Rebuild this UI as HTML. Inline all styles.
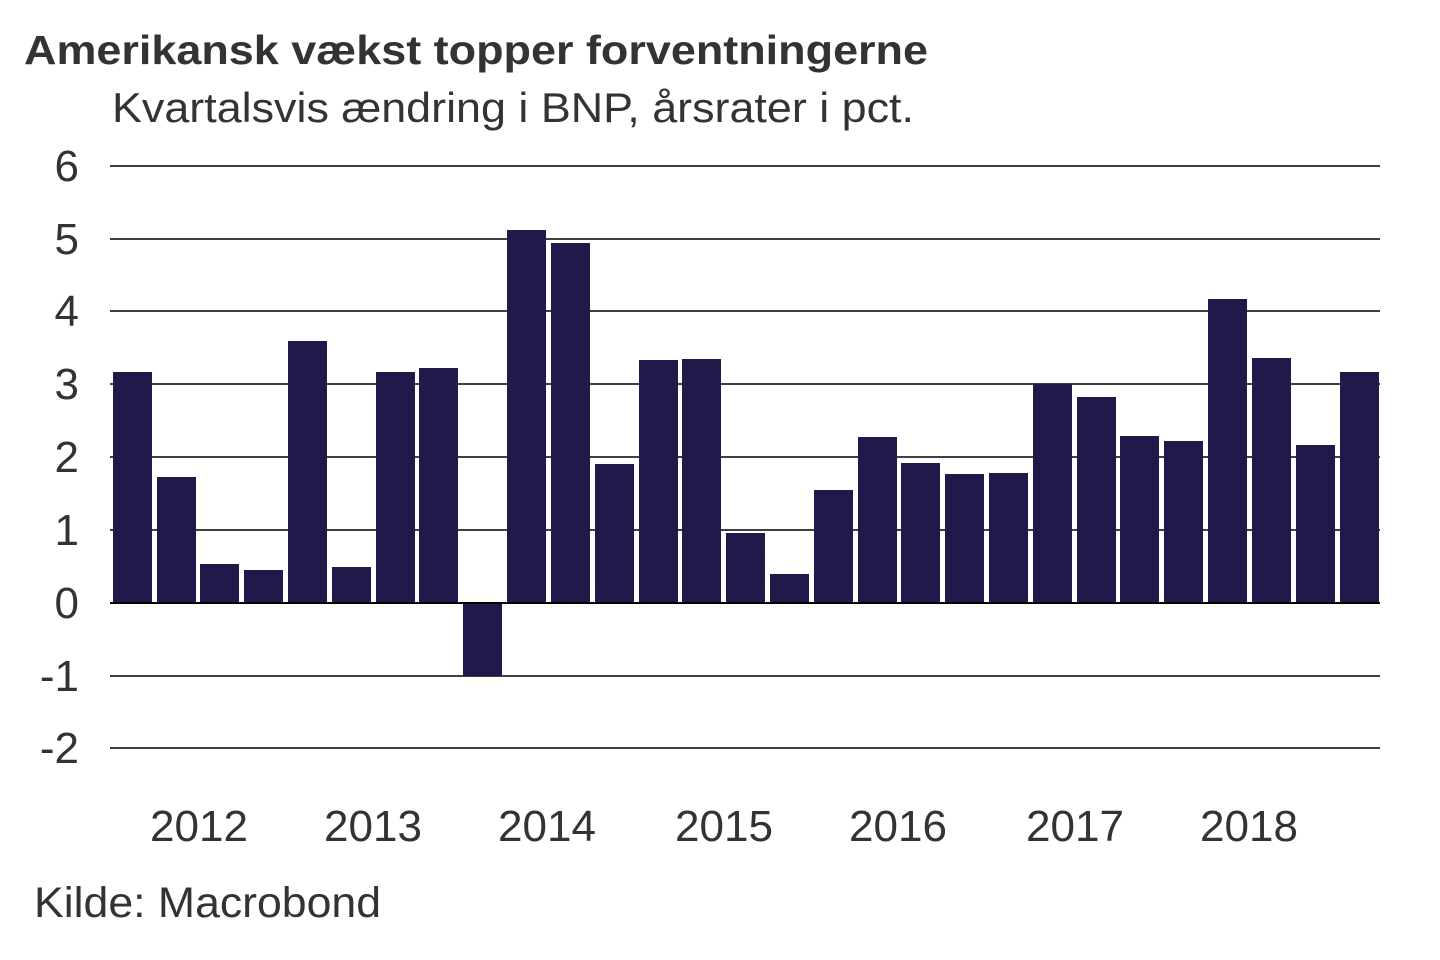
<!DOCTYPE html>
<html><head><meta charset="utf-8"><style>
body{margin:0;background:#fff;}
svg{display:block;font-family:"Liberation Sans",sans-serif;}
</style></head><body>
<svg width="1440" height="960" viewBox="0 0 1440 960">
<text x="24" y="64" font-size="41" font-weight="bold" fill="#333" textLength="904" lengthAdjust="spacingAndGlyphs">Amerikansk vækst topper forventningerne</text>
<text x="112" y="122" font-size="42" fill="#333" textLength="802" lengthAdjust="spacingAndGlyphs">Kvartalsvis ændring i BNP, årsrater i pct.</text>
<g stroke="#000" stroke-width="1.5">
<line x1="110" x2="1380" y1="166" y2="166"/>
<line x1="110" x2="1380" y1="239" y2="239"/>
<line x1="110" x2="1380" y1="311" y2="311"/>
<line x1="110" x2="1380" y1="384" y2="384"/>
<line x1="110" x2="1380" y1="457" y2="457"/>
<line x1="110" x2="1380" y1="530" y2="530"/>
<line x1="110" x2="1380" y1="676" y2="676"/>
<line x1="110" x2="1380" y1="748" y2="748"/>
</g>
<g font-size="44" fill="#333" text-anchor="end">
<text x="79" y="181">6</text><text x="79" y="254">5</text><text x="79" y="326">4</text>
<text x="79" y="399">3</text><text x="79" y="472">2</text><text x="79" y="545">1</text>
<text x="79" y="618">0</text><text x="79" y="691">-1</text><text x="79" y="763">-2</text>
</g>
<g fill="#1f1a4a">
<rect x="113" y="372" width="39" height="231"/>
<rect x="157" y="477" width="39" height="126"/>
<rect x="200" y="564" width="39" height="39"/>
<rect x="244" y="570" width="39" height="33"/>
<rect x="288" y="341" width="39" height="262"/>
<rect x="332" y="567" width="39" height="36"/>
<rect x="376" y="372" width="39" height="231"/>
<rect x="419" y="368" width="39" height="235"/>
<rect x="463" y="603" width="39" height="73"/>
<rect x="507" y="230" width="39" height="373"/>
<rect x="551" y="243" width="39" height="360"/>
<rect x="595" y="464" width="39" height="139"/>
<rect x="639" y="360" width="39" height="243"/>
<rect x="682" y="359" width="39" height="244"/>
<rect x="726" y="533" width="39" height="70"/>
<rect x="770" y="574" width="39" height="29"/>
<rect x="814" y="490" width="39" height="113"/>
<rect x="858" y="437" width="39" height="166"/>
<rect x="901" y="463" width="39" height="140"/>
<rect x="945" y="474" width="39" height="129"/>
<rect x="989" y="473" width="39" height="130"/>
<rect x="1033" y="384" width="39" height="219"/>
<rect x="1077" y="397" width="39" height="206"/>
<rect x="1120" y="436" width="39" height="167"/>
<rect x="1164" y="441" width="39" height="162"/>
<rect x="1208" y="299" width="39" height="304"/>
<rect x="1252" y="358" width="39" height="245"/>
<rect x="1296" y="445" width="39" height="158"/>
<rect x="1340" y="372" width="39" height="231"/>
</g>
<line x1="110" x2="1380" y1="603" y2="603" stroke="#000" stroke-width="2"/>
<g font-size="44" fill="#333">
<text x="150" y="841" textLength="98" lengthAdjust="spacingAndGlyphs">2012</text>
<text x="324" y="841" textLength="98" lengthAdjust="spacingAndGlyphs">2013</text>
<text x="498" y="841" textLength="98" lengthAdjust="spacingAndGlyphs">2014</text>
<text x="675" y="841" textLength="98" lengthAdjust="spacingAndGlyphs">2015</text>
<text x="849" y="841" textLength="98" lengthAdjust="spacingAndGlyphs">2016</text>
<text x="1026" y="841" textLength="98" lengthAdjust="spacingAndGlyphs">2017</text>
<text x="1200" y="841" textLength="98" lengthAdjust="spacingAndGlyphs">2018</text>
</g>
<text x="34" y="917" font-size="43" fill="#333" textLength="347" lengthAdjust="spacingAndGlyphs">Kilde: Macrobond</text>
</svg>
</body></html>
